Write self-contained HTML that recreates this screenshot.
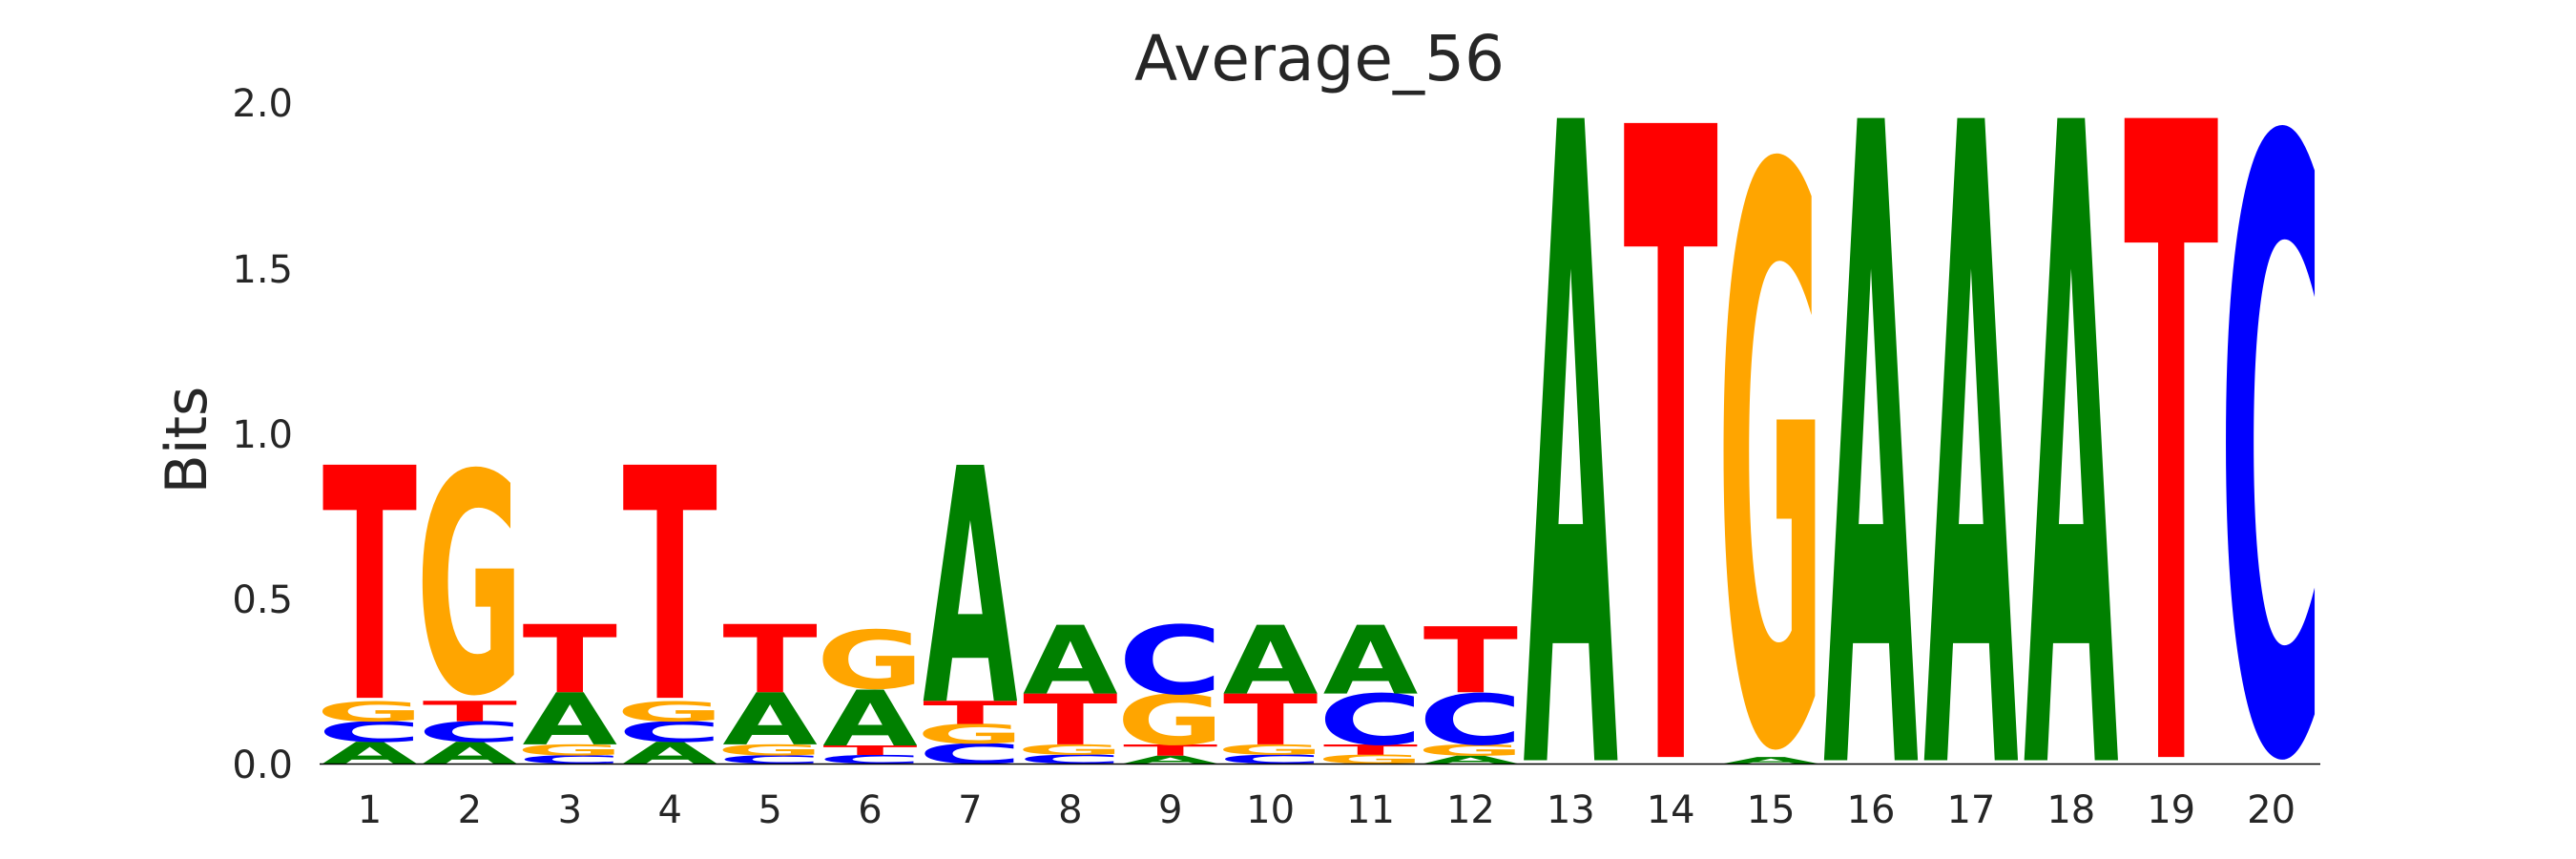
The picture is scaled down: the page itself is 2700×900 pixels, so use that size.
<!DOCTYPE html>
<html><head><meta charset="utf-8"><style>
html,body{margin:0;padding:0;background:#fff;width:2700px;height:900px;overflow:hidden;}
svg{display:block;overflow:hidden;}
.l{font-family:"DejaVu Sans","Liberation Sans",sans-serif;font-weight:bold;font-size:100px;text-anchor:middle;}
.A{fill:#008000}.C{fill:#0000ff}.G{fill:#ffa500}.T{fill:#ff0000}
.lab{font-family:"DejaVu Sans","Liberation Sans",sans-serif;fill:#262626;}
</style></head><body>
<svg width="2700" height="900" viewBox="0 0 2700 900" xmlns="http://www.w3.org/2000/svg">
<defs><clipPath id="cp"><rect x="0" y="0" width="2700" height="900"/></clipPath></defs>
<rect width="2700" height="900" fill="#fff"/>
<text class="lab" x="1383" y="84" font-size="66" text-anchor="middle">Average_56</text>
<g class="lab" font-size="40" text-anchor="end">
<text x="307" y="122">2.0</text>
<text x="307" y="296">1.5</text>
<text x="307" y="469">1.0</text>
<text x="307" y="642">0.5</text>
<text x="307" y="815">0.0</text>
</g>
<text class="lab" font-size="60" text-anchor="middle" transform="translate(216,461) rotate(-90)">Bits</text>
<g class="lab" font-size="40" text-anchor="middle">
<text x="387.5" y="862">1</text><text x="492.4" y="862">2</text><text x="597.3" y="862">3</text><text x="702.2" y="862">4</text><text x="807.1" y="862">5</text><text x="912" y="862">6</text><text x="1016.9" y="862">7</text><text x="1121.8" y="862">8</text><text x="1226.7" y="862">9</text><text x="1331.6" y="862">10</text><text x="1436.5" y="862">11</text><text x="1541.4" y="862">12</text><text x="1646.3" y="862">13</text><text x="1751.2" y="862">14</text><text x="1856.1" y="862">15</text><text x="1961" y="862">16</text><text x="2065.9" y="862">17</text><text x="2170.8" y="862">18</text><text x="2275.7" y="862">19</text><text x="2380.6" y="862">20</text>
</g>
<g class="l" clip-path="url(#cp)">
<text class="A" transform="translate(387.5,800) scale(1.286,0.313)">A</text>
<text class="C" transform="translate(387.5,777.2) scale(1.5,0.294)">C</text>
<text class="G" transform="translate(387.5,755.7) scale(1.375,0.285)">G</text>
<text class="T" transform="translate(387.5,731.1) scale(1.456,3.351)">T</text>
<text class="A" transform="translate(492.4,800) scale(1.286,0.313)">A</text>
<text class="C" transform="translate(492.4,777.2) scale(1.5,0.294)">C</text>
<text class="T" transform="translate(492.4,755.7) scale(1.456,0.294)">T</text>
<text class="G" transform="translate(492.4,724) scale(1.375,3.17)">G</text>
<text class="C" transform="translate(597.3,800) scale(1.5,0.119)">C</text>
<text class="G" transform="translate(597.3,791.4) scale(1.375,0.157)">G</text>
<text class="A" transform="translate(597.3,779.9) scale(1.286,0.75)">A</text>
<text class="T" transform="translate(597.3,725.3) scale(1.456,0.982)">T</text>
<text class="A" transform="translate(702.2,800) scale(1.286,0.313)">A</text>
<text class="C" transform="translate(702.2,777.2) scale(1.5,0.294)">C</text>
<text class="G" transform="translate(702.2,755.7) scale(1.375,0.285)">G</text>
<text class="T" transform="translate(702.2,731.1) scale(1.456,3.351)">T</text>
<text class="C" transform="translate(807.1,800) scale(1.5,0.119)">C</text>
<text class="G" transform="translate(807.1,791.4) scale(1.375,0.157)">G</text>
<text class="A" transform="translate(807.1,779.9) scale(1.286,0.75)">A</text>
<text class="T" transform="translate(807.1,725.3) scale(1.456,0.982)">T</text>
<text class="C" transform="translate(912,800) scale(1.5,0.123)">C</text>
<text class="T" transform="translate(912,791) scale(1.456,0.138)">T</text>
<text class="A" transform="translate(912,781) scale(1.286,0.802)">A</text>
<text class="G" transform="translate(912,721.1) scale(1.375,0.84)">G</text>
<text class="C" transform="translate(1016.9,800) scale(1.5,0.29)">C</text>
<text class="G" transform="translate(1016.9,778.9) scale(1.375,0.28)">G</text>
<text class="T" transform="translate(1016.9,758.5) scale(1.456,0.332)">T</text>
<text class="A" transform="translate(1016.9,734.3) scale(1.286,3.393)">A</text>
<text class="C" transform="translate(1121.8,800) scale(1.5,0.128)">C</text>
<text class="G" transform="translate(1121.8,790.7) scale(1.375,0.147)">G</text>
<text class="T" transform="translate(1121.8,779.9) scale(1.456,0.731)">T</text>
<text class="A" transform="translate(1121.8,726.6) scale(1.286,0.987)">A</text>
<text class="A" transform="translate(1226.7,800) scale(1.286,0.114)">A</text>
<text class="T" transform="translate(1226.7,791.7) scale(1.456,0.161)">T</text>
<text class="G" transform="translate(1226.7,779.9) scale(1.375,0.721)">G</text>
<text class="C" transform="translate(1226.7,726.6) scale(1.5,0.987)">C</text>
<text class="C" transform="translate(1331.6,800) scale(1.5,0.128)">C</text>
<text class="G" transform="translate(1331.6,790.7) scale(1.375,0.147)">G</text>
<text class="T" transform="translate(1331.6,779.9) scale(1.456,0.731)">T</text>
<text class="A" transform="translate(1331.6,726.6) scale(1.286,0.987)">A</text>
<text class="G" transform="translate(1436.5,800) scale(1.375,0.128)">G</text>
<text class="T" transform="translate(1436.5,790.7) scale(1.456,0.147)">T</text>
<text class="C" transform="translate(1436.5,779.9) scale(1.5,0.731)">C</text>
<text class="A" transform="translate(1436.5,726.6) scale(1.286,0.987)">A</text>
<text class="A" transform="translate(1541.4,800) scale(1.286,0.114)">A</text>
<text class="G" transform="translate(1541.4,791.7) scale(1.375,0.161)">G</text>
<text class="C" transform="translate(1541.4,779.9) scale(1.5,0.731)">C</text>
<text class="T" transform="translate(1541.4,725.3) scale(1.456,0.949)">T</text>
<text class="A" transform="translate(1646.3,796.5) scale(1.286,9.23)">A</text>
<text class="T" transform="translate(1751.2,793.1) scale(1.456,9.112)">T</text>
<text class="A" transform="translate(1856.1,800) scale(1.286,0.095)">A</text>
<text class="G" transform="translate(1856.1,773.8) scale(1.375,8.26)">G</text>
<text class="A" transform="translate(1961,796.5) scale(1.286,9.23)">A</text>
<text class="A" transform="translate(2065.9,796.5) scale(1.286,9.23)">A</text>
<text class="A" transform="translate(2170.8,796.5) scale(1.286,9.23)">A</text>
<text class="T" transform="translate(2275.7,793.1) scale(1.456,9.183)">T</text>
<text class="C" transform="translate(2380.6,783.4) scale(1.5,8.79)">C</text>
</g>
<line x1="335" y1="800.5" x2="2432" y2="800.5" stroke="#000" stroke-width="1.5"/>
</svg>
</body></html>
